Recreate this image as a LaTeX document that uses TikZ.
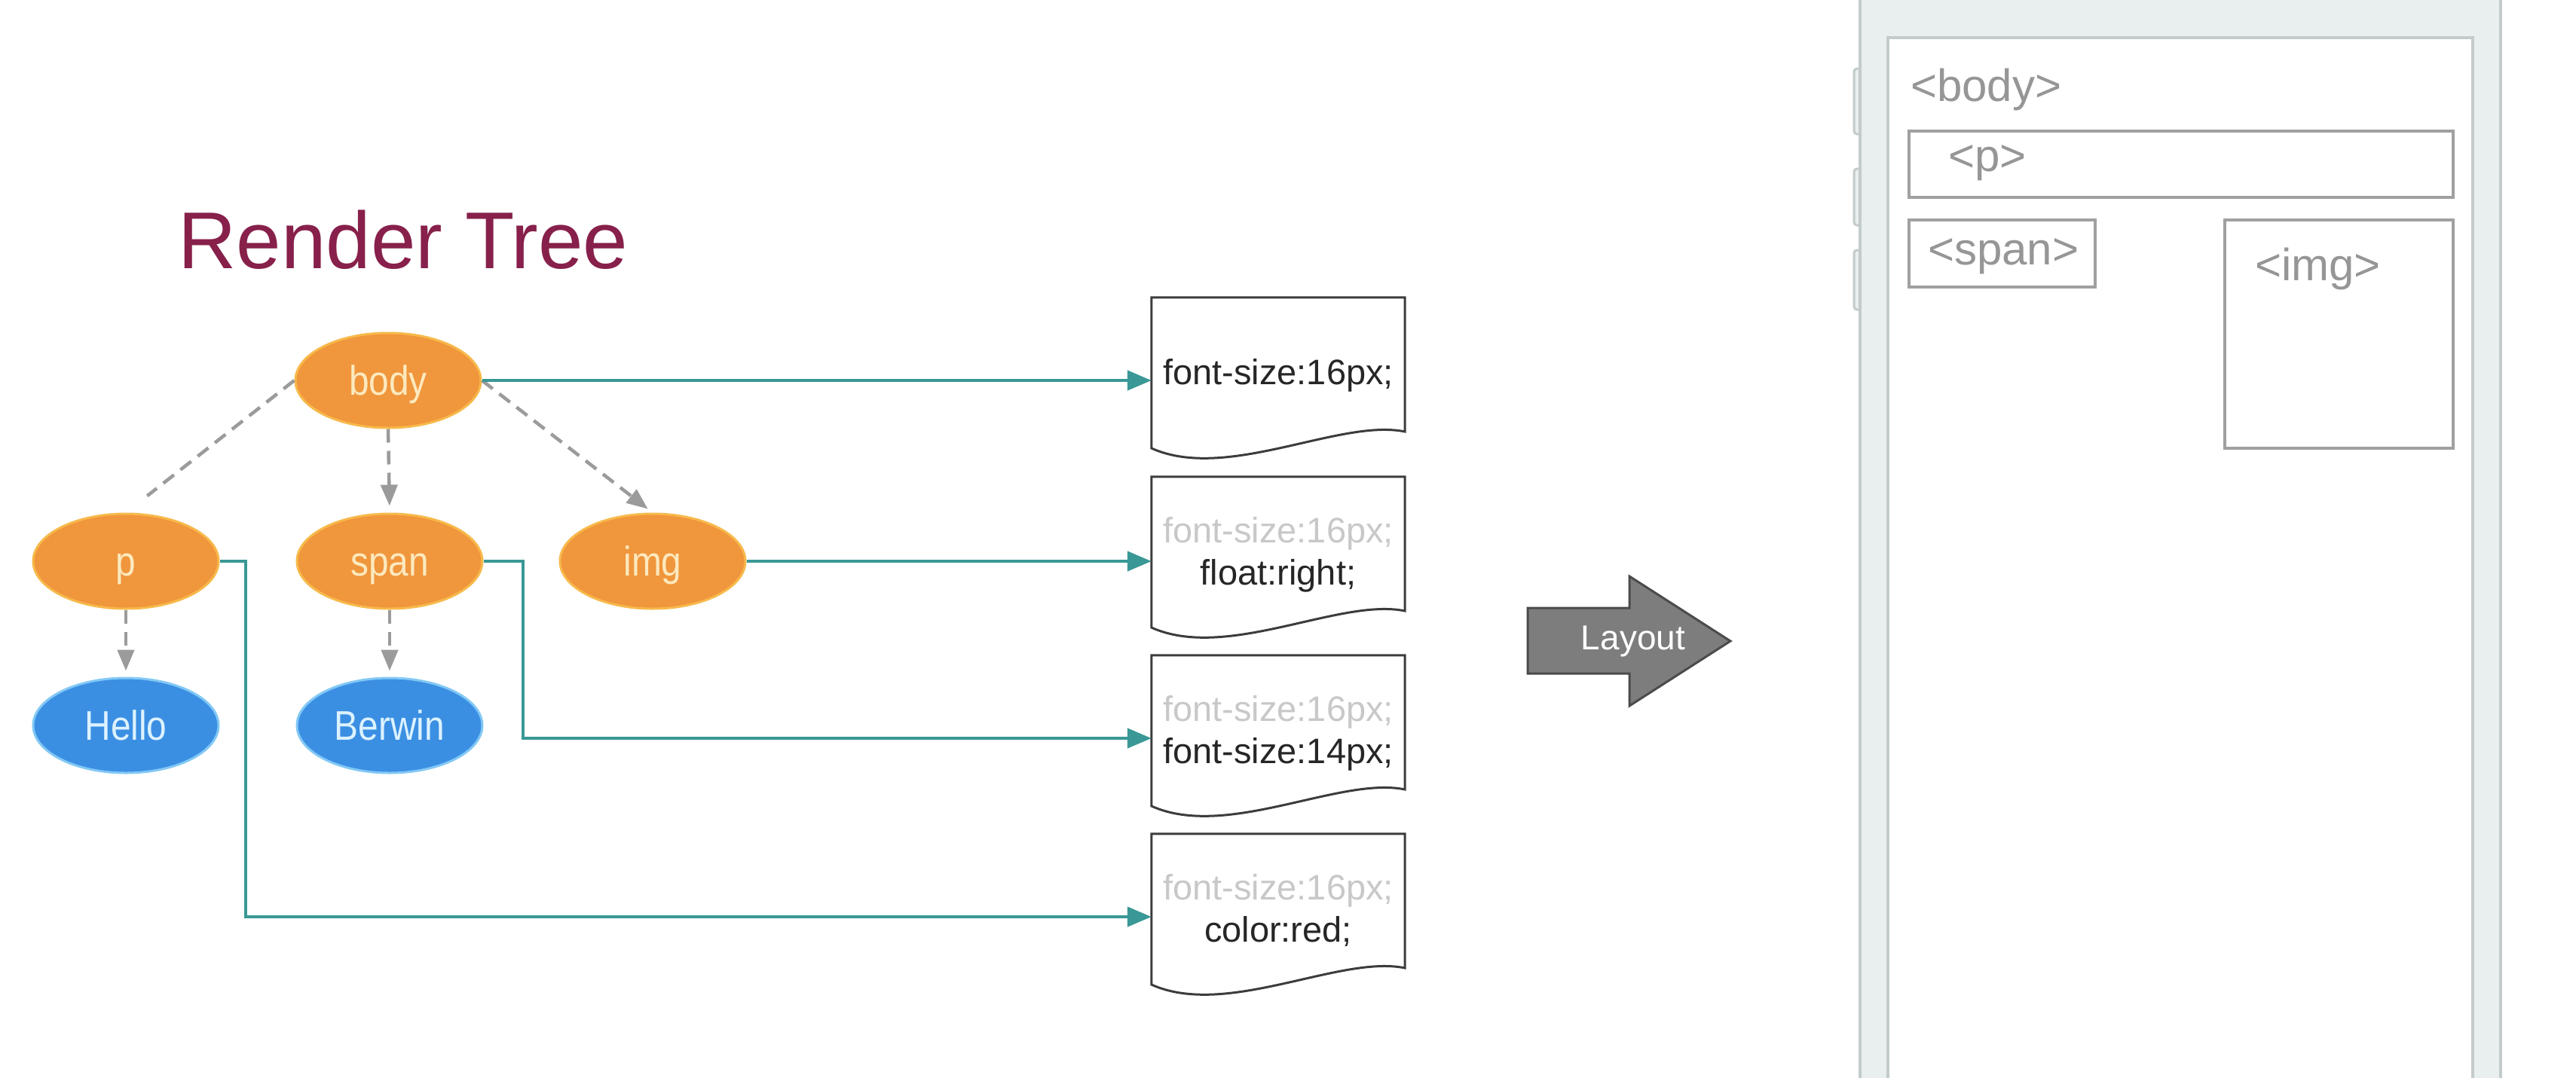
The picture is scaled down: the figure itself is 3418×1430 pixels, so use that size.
\documentclass[tikz,border=0pt]{standalone}
\usepackage{fontspec}
\setmainfont{Liberation Sans}
\newfontfamily\condfont[FakeStretch=0.87]{Liberation Sans}
\usetikzlibrary{arrows.meta,shapes.geometric}
\definecolor{titlecol}{RGB}{135,32,75}
\definecolor{orangefill}{RGB}{240,150,60}
\definecolor{orangeedge}{RGB}{247,185,75}
\definecolor{orangetext}{RGB}{253,233,190}
\definecolor{bluefill}{RGB}{59,143,227}
\definecolor{blueedge}{RGB}{130,200,245}
\definecolor{bluetext}{RGB}{220,242,255}
\definecolor{teal}{RGB}{58,152,150}
\definecolor{dashgray}{RGB}{155,155,155}
\definecolor{fadegray}{RGB}{200,200,200}
\definecolor{boxedge}{RGB}{60,60,60}
\definecolor{arrowfill}{RGB}{125,125,125}
\definecolor{arrowedge}{RGB}{75,75,75}
\definecolor{phonefill}{RGB}{232,239,238}
\definecolor{phoneedge}{RGB}{195,203,203}
\definecolor{rectedge}{RGB}{160,160,160}
\definecolor{phonetext}{RGB}{150,150,150}
\begin{document}
\begin{tikzpicture}[x=1pt,y=-1pt,
  treenode/.style={ellipse,minimum width=246pt,minimum height=126pt,inner sep=0pt,line width=3pt,
    font=\condfont\fontsize{55}{62}\selectfont,text height=46pt,text depth=8pt},
  orangenode/.style={treenode,fill=orangefill,draw=orangeedge,text=orangetext},
  bluenode/.style={treenode,fill=bluefill,draw=blueedge,text=bluetext},
  stylebox/.style={rectangle,minimum width=336pt,minimum height=220pt,inner sep=0pt},
  boxtext/.style={anchor=base,inner sep=0pt,font=\fontsize{47}{55}\selectfont,text=black!85},
  fadetext/.style={boxtext,text=fadegray},
  docline/.style={draw=boxedge,line width=3pt,line join=miter},
  tealline/.style={draw=teal,line width=4.5pt,-{Triangle[length=32pt,width=26pt]}},
  dashline/.style={draw=dashgray,line width=4.5pt,dash pattern=on 18pt off 11pt},
  dasharrow/.style={dashline,-{Triangle[length=28pt,width=22pt]}},
  phonerect/.style={draw=rectedge,line width=4pt},
  phonelabel/.style={anchor=base west,text=phonetext,font=\fontsize{60}{66}\selectfont,inner sep=0pt}
]
\useasboundingbox (0,0) rectangle (3418,1430);
\fill[white] (0,0) rectangle (3418,1430);

% title
\node[text=titlecol,font=\fontsize{107}{120}\selectfont,inner sep=0pt] (title) at (535,318) {Render Tree};

% tree nodes
\node[orangenode] (body) at (515,505) {body};
\node[orangenode] (p) at (167,745) {p};
\node[orangenode] (span) at (517,745) {span};
\node[orangenode] (img) at (866,745) {img};
\node[bluenode] (hello) at (167,963) {Hello};
\node[bluenode] (berwin) at (517,963) {Berwin};

% style boxes
\node[stylebox] (b1) at (1696,505) {};
\node[stylebox] (b2) at (1696,743) {};
\node[stylebox] (b3) at (1696,980) {};
\node[stylebox] (b4) at (1696,1217) {};
\foreach \b in {b1,b2,b3,b4}{
  \draw[docline] ([yshift=90pt]\b.west) -- (\b.north west) -- (\b.north east) -- ([yshift=-68pt]\b.east)
     .. controls ([xshift=-86pt,yshift=-50pt]\b.east) and ([xshift=100pt,yshift=-135pt]\b.west) .. ([yshift=-90pt]\b.west) -- cycle;
}
\node[boxtext] (t1) at ([yshift=-5pt]b1.center) {font-size:16px;};
\node[fadetext] (t2a) at ([yshift=23pt]b2.center) {font-size:16px;};
\node[boxtext] (t2b) at ([yshift=-33pt]b2.center) {float:right;};
\node[fadetext] (t3a) at ([yshift=23pt]b3.center) {font-size:16px;};
\node[boxtext] (t3b) at ([yshift=-33pt]b3.center) {font-size:14px;};
\node[fadetext] (t4a) at ([yshift=23pt]b4.center) {font-size:16px;};
\node[boxtext] (t4b) at ([yshift=-33pt]b4.center) {color:red;};

% dashed tree edges
\draw[dashline,shorten >=36pt] (body.west) -- (p.north);
\draw[dasharrow,shorten >=9pt] (body.south) -- (span.north);
\draw[dasharrow,shorten >=8pt] (body.east) -- (img.north);
\draw[dasharrow,shorten >=8pt] (p.south) -- (hello.north);
\draw[dasharrow,shorten >=8pt] (span.south) -- (berwin.north);

% teal connectors
\draw[tealline] (body.east) -- (body.east -| b1.west);
\draw[tealline] (img.east) -- (img.east -| b2.west);
\coordinate (sturn) at (694,745);
\coordinate (pturn) at (326,745);
\draw[tealline] (span.east) -- (sturn) -- (sturn |- b3.west) -- (b3.west);
\draw[tealline] (p.east) -- (pturn) -- (pturn |- b4.west) -- (b4.west);

% layout arrow
\draw[fill=arrowfill,draw=arrowedge,line width=3pt,line join=miter]
  (2027,807) -- (2162,807) -- (2162,765) -- (2296,851) -- (2162,937) -- (2162,894) -- (2027,894) -- cycle;
\node[text=white,font=\fontsize{46}{52}\selectfont,inner sep=0pt] (layout) at (2167,851) {Layout};

% phone
\foreach \ya/\yb in {91/178,224/299,332/411}{
  \draw[fill=phonefill,draw=phoneedge,line width=3pt,rounded corners=4pt] (2460,\ya) rectangle (2476,\yb);
}
\fill[phonefill] (2468,-20) rectangle (3318,1450);
\draw[phoneedge,line width=4pt] (2468,-20) -- (2468,1450);
\draw[phoneedge,line width=4pt] (3318,-20) -- (3318,1450);
\draw[fill=white,draw=phoneedge,line width=4pt] (2505,50) rectangle (3281,1460);

\node[phonelabel] (lbody) at (2535,134) {<body>};
\draw[phonerect] (2533,174) rectangle (3255,262);
\node[phonelabel] (lp) at (2585,227) {<p>};
\draw[phonerect] (2533,292) rectangle (2780,381);
\node[phonelabel] (lspan) at (2558,351) {<span>};
\draw[phonerect] (2952,292) rectangle (3255,595);
\node[phonelabel] (limg) at (2992,372) {<img>};
\end{tikzpicture}
\end{document}
